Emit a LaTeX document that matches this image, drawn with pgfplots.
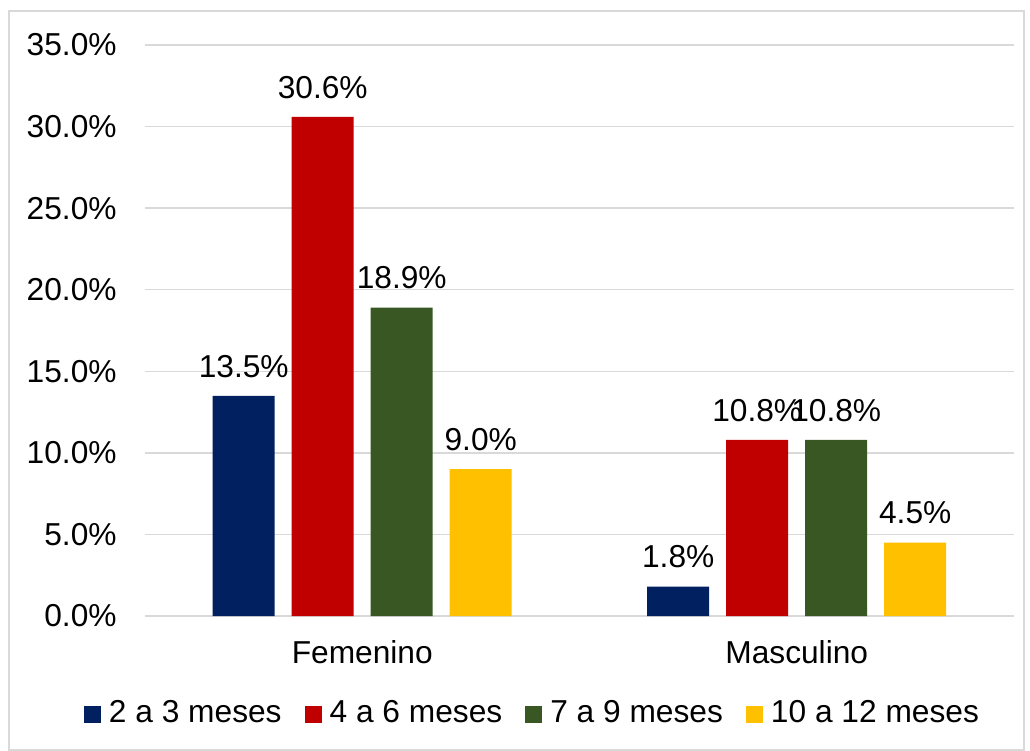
\documentclass[border=0pt]{standalone}
\usepackage{fontspec}
\setmainfont{Liberation Sans}
\usepackage{pgfplots}
\pgfplotsset{compat=1.18}
\definecolor{c1}{HTML}{002060}
\definecolor{c2}{HTML}{C00000}
\definecolor{c3}{HTML}{385723}
\definecolor{c4}{HTML}{FFC000}
\definecolor{gridc}{HTML}{D9D9D9}
\newcommand{\fs}{\fontsize{15.85}{19}\selectfont}
\begin{document}
\fs
\begin{tikzpicture}
\path[use as bounding box] (0,0) rectangle (515pt,375.5pt);
\draw[gridc, line width=0.75pt] (4.5pt,0.5pt) rectangle (512pt,370pt);
\begin{axis}[
  at={(72.5pt,67.5pt)}, anchor=south west,
  scale only axis, width=434.5pt, height=285.5pt,
  ybar=8.5pt, bar width=31pt,
  xmin=-0.5, xmax=1.5, ymin=0, ymax=35,
  xtick={0,1}, xticklabels={Femenino,Masculino},
  ytick={0,5,...,35},
  yticklabel={\pgfmathprintnumber[fixed,fixed zerofill,precision=1]{\tick}\%},
  /pgf/number format/assume math mode=true,
  major tick length=0pt,
  axis x line*=bottom, axis y line*=left,
  x axis line style={gridc, line width=0.75pt, -},
  y axis line style={draw=none},
  ymajorgrids, grid style={gridc, line width=0.75pt},
  yticklabel style={font=\fs, inner sep=0pt, anchor=east, xshift=-14pt},
  xticklabel style={font=\fs, inner sep=0pt, anchor=north, yshift=-12pt},
  nodes near coords={\pgfmathprintnumber[fixed,fixed zerofill,precision=1]{\pgfplotspointmeta}\%},
  nodes near coords style={font=\fs, inner sep=0pt, anchor=south, yshift=9pt, text=black},
  legend columns=4,
  legend style={draw=none, font=\fs, at={(0.447,-0.172)}, anchor=center,
    /tikz/every even column/.append style={column sep=9.5pt},
    /tikz/every odd column/.append style={column sep=2pt}},
  legend image code/.code={\fill[#1] (0pt,-4.25pt) rectangle (8.5pt,4.25pt);},
  every axis plot/.append style={draw=none},
]
\addplot[fill=c1] coordinates {(0,13.5) (1,1.8)};
\addplot[fill=c2] coordinates {(0,30.6) (1,10.8)};
\addplot[fill=c3] coordinates {(0,18.9) (1,10.8)};
\addplot[fill=c4] coordinates {(0,9.0) (1,4.5)};
\legend{2 a 3 meses,4 a 6 meses,7 a 9 meses,10 a 12 meses}
\end{axis}
\end{tikzpicture}
\end{document}
